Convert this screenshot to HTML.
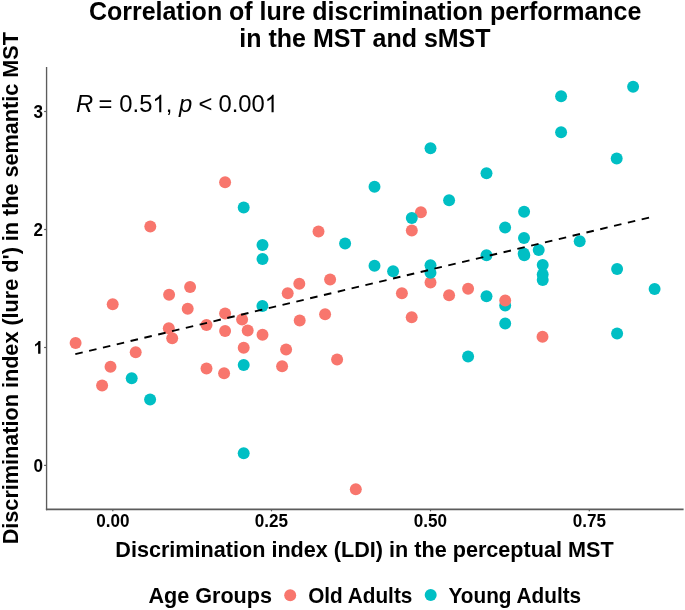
<!DOCTYPE html>
<html><head><meta charset="utf-8"><style>
html,body{margin:0;padding:0;background:#fff;}
body{width:685px;height:610px;overflow:hidden;}
svg{display:block;font-family:"Liberation Sans",sans-serif;will-change:transform;}
.b{font-weight:bold;}
</style></head><body>
<svg width="685" height="610" viewBox="0 0 685 610">
<rect width="685" height="610" fill="#fff"/>
<g class="b" fill="#000" font-size="25">
<g transform="translate(0,19.95) scale(1,1.03) translate(0,-19.95)"><text x="88.9" y="19.95">Correlation of lure discrimination performance</text></g>
<g transform="translate(0,46.9) scale(1,1.03) translate(0,-46.9)"><text x="239.35" y="46.9">in the MST and sMST</text></g>
</g>
<g font-size="23.8" fill="#000" transform="translate(0,112.3) scale(1,1.03) translate(0,-112.3)">
<text x="75.9" y="112.3" font-style="italic">R</text>
<text x="98.4" y="112.3">=</text>
<text x="119.35" y="112.3">0.5</text>
<path transform="translate(152.43,112.3) scale(0.011621,-0.011621)" d="M763 0L583 0L583 1147Q518 1085 412 1023Q306 961 222 930L222 1104Q373 1175 486 1276Q599 1377 646 1472L763 1472Z"/>
<text x="165.67" y="112.3">,</text>
<text x="179.1" y="112.3" font-style="italic">p</text>
<text x="198.4" y="112.3">&lt;</text>
<text x="218.45" y="112.3">0.00</text>
<path transform="translate(264.77,112.3) scale(0.011621,-0.011621)" d="M763 0L583 0L583 1147Q518 1085 412 1023Q306 961 222 930L222 1104Q373 1175 486 1276Q599 1377 646 1472L763 1472Z"/>
</g>
<circle cx="75.60" cy="343.00" r="5.98" fill="#F8766D"/>
<circle cx="112.70" cy="304.20" r="5.98" fill="#F8766D"/>
<circle cx="135.70" cy="352.20" r="5.98" fill="#F8766D"/>
<circle cx="110.50" cy="366.80" r="5.98" fill="#F8766D"/>
<circle cx="102.10" cy="385.40" r="5.98" fill="#F8766D"/>
<circle cx="168.80" cy="328.20" r="5.98" fill="#F8766D"/>
<circle cx="172.20" cy="338.20" r="5.98" fill="#F8766D"/>
<circle cx="150.30" cy="226.40" r="5.98" fill="#F8766D"/>
<circle cx="169.10" cy="294.80" r="5.98" fill="#F8766D"/>
<circle cx="190.10" cy="287.00" r="5.98" fill="#F8766D"/>
<circle cx="187.70" cy="308.80" r="5.98" fill="#F8766D"/>
<circle cx="206.50" cy="325.00" r="5.98" fill="#F8766D"/>
<circle cx="225.10" cy="313.40" r="5.98" fill="#F8766D"/>
<circle cx="225.10" cy="331.00" r="5.98" fill="#F8766D"/>
<circle cx="242.10" cy="319.40" r="5.98" fill="#F8766D"/>
<circle cx="247.70" cy="330.60" r="5.98" fill="#F8766D"/>
<circle cx="262.50" cy="334.80" r="5.98" fill="#F8766D"/>
<circle cx="243.70" cy="347.80" r="5.98" fill="#F8766D"/>
<circle cx="206.50" cy="368.60" r="5.98" fill="#F8766D"/>
<circle cx="224.10" cy="373.20" r="5.98" fill="#F8766D"/>
<circle cx="287.70" cy="293.20" r="5.98" fill="#F8766D"/>
<circle cx="299.30" cy="283.80" r="5.98" fill="#F8766D"/>
<circle cx="330.10" cy="279.60" r="5.98" fill="#F8766D"/>
<circle cx="299.70" cy="320.60" r="5.98" fill="#F8766D"/>
<circle cx="325.10" cy="314.20" r="5.98" fill="#F8766D"/>
<circle cx="286.10" cy="349.40" r="5.98" fill="#F8766D"/>
<circle cx="282.10" cy="366.20" r="5.98" fill="#F8766D"/>
<circle cx="337.10" cy="359.40" r="5.98" fill="#F8766D"/>
<circle cx="225.10" cy="182.20" r="5.98" fill="#F8766D"/>
<circle cx="318.50" cy="231.40" r="5.98" fill="#F8766D"/>
<circle cx="355.80" cy="489.20" r="5.98" fill="#F8766D"/>
<circle cx="420.90" cy="212.20" r="5.98" fill="#F8766D"/>
<circle cx="411.80" cy="230.40" r="5.98" fill="#F8766D"/>
<circle cx="430.50" cy="282.50" r="5.98" fill="#F8766D"/>
<circle cx="468.10" cy="288.80" r="5.98" fill="#F8766D"/>
<circle cx="449.10" cy="295.20" r="5.98" fill="#F8766D"/>
<circle cx="401.90" cy="293.20" r="5.98" fill="#F8766D"/>
<circle cx="411.70" cy="317.20" r="5.98" fill="#F8766D"/>
<circle cx="542.50" cy="336.80" r="5.98" fill="#F8766D"/>
<circle cx="131.70" cy="378.20" r="5.98" fill="#00BFC4"/>
<circle cx="150.10" cy="399.40" r="5.98" fill="#00BFC4"/>
<circle cx="243.70" cy="207.60" r="5.98" fill="#00BFC4"/>
<circle cx="262.50" cy="245.00" r="5.98" fill="#00BFC4"/>
<circle cx="262.50" cy="259.00" r="5.98" fill="#00BFC4"/>
<circle cx="262.40" cy="306.00" r="5.98" fill="#00BFC4"/>
<circle cx="243.70" cy="365.00" r="5.98" fill="#00BFC4"/>
<circle cx="243.70" cy="453.20" r="5.98" fill="#00BFC4"/>
<circle cx="374.50" cy="186.80" r="5.98" fill="#00BFC4"/>
<circle cx="345.10" cy="243.40" r="5.98" fill="#00BFC4"/>
<circle cx="374.50" cy="265.80" r="5.98" fill="#00BFC4"/>
<circle cx="393.10" cy="271.20" r="5.98" fill="#00BFC4"/>
<circle cx="411.80" cy="218.00" r="5.98" fill="#00BFC4"/>
<circle cx="430.50" cy="148.20" r="5.98" fill="#00BFC4"/>
<circle cx="486.50" cy="173.20" r="5.98" fill="#00BFC4"/>
<circle cx="449.10" cy="200.20" r="5.98" fill="#00BFC4"/>
<circle cx="505.10" cy="227.50" r="5.98" fill="#00BFC4"/>
<circle cx="524.10" cy="211.80" r="5.98" fill="#00BFC4"/>
<circle cx="524.00" cy="238.00" r="5.98" fill="#00BFC4"/>
<circle cx="523.70" cy="253.60" r="5.98" fill="#00BFC4"/>
<circle cx="524.30" cy="255.20" r="5.98" fill="#00BFC4"/>
<circle cx="538.70" cy="250.00" r="5.98" fill="#00BFC4"/>
<circle cx="542.70" cy="265.00" r="5.98" fill="#00BFC4"/>
<circle cx="542.70" cy="274.60" r="5.98" fill="#00BFC4"/>
<circle cx="542.70" cy="280.00" r="5.98" fill="#00BFC4"/>
<circle cx="486.50" cy="255.20" r="5.98" fill="#00BFC4"/>
<circle cx="430.50" cy="265.30" r="5.98" fill="#00BFC4"/>
<circle cx="430.50" cy="272.70" r="5.98" fill="#00BFC4"/>
<circle cx="486.50" cy="296.20" r="5.98" fill="#00BFC4"/>
<circle cx="505.20" cy="305.40" r="5.98" fill="#00BFC4"/>
<circle cx="505.20" cy="323.40" r="5.98" fill="#00BFC4"/>
<circle cx="468.10" cy="356.60" r="5.98" fill="#00BFC4"/>
<circle cx="561.10" cy="96.20" r="5.98" fill="#00BFC4"/>
<circle cx="633.10" cy="86.85" r="5.98" fill="#00BFC4"/>
<circle cx="561.10" cy="132.20" r="5.98" fill="#00BFC4"/>
<circle cx="616.70" cy="158.60" r="5.98" fill="#00BFC4"/>
<circle cx="579.70" cy="241.20" r="5.98" fill="#00BFC4"/>
<circle cx="617.10" cy="269.00" r="5.98" fill="#00BFC4"/>
<circle cx="654.60" cy="289.00" r="5.98" fill="#00BFC4"/>
<circle cx="617.10" cy="333.40" r="5.98" fill="#00BFC4"/>
<circle cx="505.20" cy="300.40" r="5.98" fill="#F8766D"/>
<line x1="75.3" y1="354.2" x2="649.6" y2="217.45" stroke="#000" stroke-width="1.9" stroke-dasharray="7.6 6.6"/>
<g stroke="#5c5c5c" stroke-width="1.2" fill="none">
<line x1="46.57" y1="67" x2="46.57" y2="510.2" stroke-width="1.35"/>
<line x1="45.9" y1="509.3" x2="683.6" y2="509.3" stroke-width="1.8"/>
<line x1="44.1" y1="465.4" x2="46.4" y2="465.4"/>
<line x1="44.1" y1="347.5" x2="46.4" y2="347.5"/>
<line x1="44.1" y1="229.5" x2="46.4" y2="229.5"/>
<line x1="44.1" y1="111.5" x2="46.4" y2="111.5"/>
<line x1="112.8" y1="509.3" x2="112.8" y2="511.3"/>
<line x1="271.5" y1="509.3" x2="271.5" y2="511.3"/>
<line x1="430.5" y1="509.3" x2="430.5" y2="511.3"/>
<line x1="589.3" y1="509.3" x2="589.3" y2="511.3"/>
</g>
<g class="b" font-size="17.1" fill="#000">
<g transform="translate(0,471.59999999999997) scale(1,1.03) translate(0,-471.59999999999997)"><text x="42.95" y="471.59999999999997" text-anchor="end">0</text></g>
<path transform="translate(33.440,353.70) scale(0.008350,-0.008600)" d="M842 0L561 0L561 1059Q407 915 198 846L198 1101Q308 1137 437 1238Q566 1339 614 1473L842 1473Z"/>
<g transform="translate(0,235.7) scale(1,1.03) translate(0,-235.7)"><text x="42.95" y="235.7" text-anchor="end">2</text></g>
<g transform="translate(0,117.7) scale(1,1.03) translate(0,-117.7)"><text x="42.95" y="117.7" text-anchor="end">3</text></g>
<g transform="translate(0,526.7) scale(1,1.03) translate(0,-526.7)"><text x="112.8" y="526.7" text-anchor="middle">0.00</text>
<text x="271.5" y="526.7" text-anchor="middle">0.25</text>
<text x="430.5" y="526.7" text-anchor="middle">0.50</text>
<text x="589.3" y="526.7" text-anchor="middle">0.75</text></g>
</g>
<g transform="translate(0,557.4) scale(1,1.03) translate(0,-557.4)"><text class="b" x="115.3" y="557.4" font-size="21.62">Discrimination index (LDI) in the perceptual MST</text></g>
<g transform="translate(17.8,544.3) rotate(-90) scale(1,1.03)"><text class="b" x="0" y="0" font-size="21.64">Discrimination index (lure d') in the semantic MST</text></g>
<g class="b">
<g transform="translate(0,603) scale(1,1.03) translate(0,-603)"><text x="148.45" y="603" font-size="21.6">Age Groups</text></g>
<circle cx="290.2" cy="595.15" r="6" fill="#F8766D"/>
<g transform="translate(0,602.9) scale(1,1.03) translate(0,-602.9)"><text x="308.17" y="602.9" font-size="20.77">Old Adults</text></g>
<circle cx="430.7" cy="595.1" r="6" fill="#00BFC4"/>
<g transform="translate(0,602.9) scale(1,1.03) translate(0,-602.9)"><text x="448.5" y="602.9" font-size="20.77">Young Adults</text></g>
</g>
</svg>
</body></html>
